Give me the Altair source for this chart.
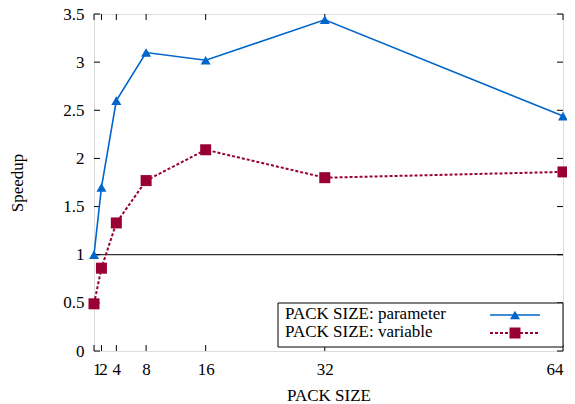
import altair as alt
import pandas as pd

pack_sizes = [1, 2, 4, 8, 16, 32, 64]
speedup_parameter = [1.00, 1.70, 2.60, 3.10, 3.02, 3.44, 2.44]
speedup_variable = [0.49, 0.86, 1.33, 1.77, 2.09, 1.80, 1.86]
series_labels = ["PACK SIZE: parameter", "PACK SIZE: variable"]
x_ticks = [1, 2, 4, 8, 16, 32, 64]
y_ticks = [0, 0.5, 1, 1.5, 2, 2.5, 3, 3.5]

W, H = 469, 337
FONT = "Liberation Serif"
FS = 17
BLUE = "#0066cc"
RED = "#990033"

df_p = pd.DataFrame({"pack": pack_sizes, "speedup": speedup_parameter})
df_v = pd.DataFrame({"pack": pack_sizes, "speedup": speedup_variable})
df_xt = pd.DataFrame({"t": x_ticks})
df_yt = pd.DataFrame({"t": y_ticks})
one = pd.DataFrame({"a": [0]})

xs = alt.Scale(domain=[1, 64], nice=False, zero=False)
ys = alt.Scale(domain=[0, 3.5], nice=False, zero=True)

x_axis = alt.Axis(values=x_ticks, title="PACK SIZE", grid=False, ticks=False, domain=False,
                  labelOverlap=False, format="d", labelFont=FONT, labelFontSize=FS,
                  titleFont=FONT, titleFontSize=FS, titleFontWeight="normal",
                  labelOffset={"expr": "datum.value == 1 ? -1.5 : (datum.value == 2 ? 1.5 : 0)"},
                  labelPadding=10, titlePadding=10, labelColor="black", titleColor="black")
y_axis = alt.Axis(values=y_ticks, title="Speedup", grid=False, ticks=False, domain=False,
                  format="~g", labelFont=FONT, labelFontSize=FS, titleFont=FONT,
                  titleFontSize=FS, titleFontWeight="normal", labelPadding=10,
                  titlePadding=36, labelColor="black", titleColor="black")

X = alt.X("pack:Q", scale=xs, axis=x_axis)
Y = alt.Y("speedup:Q", scale=ys, axis=y_axis)

ref1 = alt.Chart(one).mark_rule(color="black", strokeWidth=1).encode(
    y=alt.datum(1, scale=ys))

xt_bottom = alt.Chart(df_xt).mark_rule(color="black", strokeWidth=1).encode(
    x=alt.X("t:Q", scale=xs), y=alt.value(H), y2=alt.value(H - 6))
xt_top = alt.Chart(df_xt).mark_rule(color="black", strokeWidth=1).encode(
    x=alt.X("t:Q", scale=xs), y=alt.value(0), y2=alt.value(6))
yt_left = alt.Chart(df_yt).mark_rule(color="black", strokeWidth=1).encode(
    y=alt.Y("t:Q", scale=ys), x=alt.value(0), x2=alt.value(6))
yt_right = alt.Chart(df_yt).mark_rule(color="black", strokeWidth=1).encode(
    y=alt.Y("t:Q", scale=ys), x=alt.value(W - 6), x2=alt.value(W))

line_p = alt.Chart(df_p).mark_line(color=BLUE, strokeWidth=1.6).encode(x=X, y=Y)
pts_p = alt.Chart(df_p).mark_point(shape="triangle-up", filled=True, color=BLUE,
                                   size=100, opacity=1).encode(x=X, y=Y)
line_v = alt.Chart(df_v).mark_line(color=RED, strokeWidth=2, strokeDash=[3, 2]).encode(x=X, y=Y)
pts_v = alt.Chart(df_v).mark_point(shape="square", filled=True, color=RED,
                                   size=121, opacity=1).encode(x=X, y=Y)

# legend box
leg_box = alt.Chart(one).mark_rect(fill="white", stroke="black", strokeWidth=1).encode(
    x=alt.value(184), x2=alt.value(W), y=alt.value(289), y2=alt.value(333))
leg_t1 = alt.Chart(one).mark_text(text=series_labels[0], font=FONT, fontSize=FS, align="left",
                                  baseline="alphabetic", color="black").encode(
    x=alt.value(191), y=alt.value(305))
leg_t2 = alt.Chart(one).mark_text(text=series_labels[1], font=FONT, fontSize=FS, align="left",
                                  baseline="alphabetic", color="black").encode(
    x=alt.value(191), y=alt.value(323))
leg_l1 = alt.Chart(one).mark_rule(color=BLUE, strokeWidth=1.6).encode(
    x=alt.value(396), x2=alt.value(446), y=alt.value(301))
leg_m1 = alt.Chart(one).mark_point(shape="triangle-up", filled=True, color=BLUE, size=100,
                                   opacity=1).encode(x=alt.value(421), y=alt.value(301))
leg_l2 = alt.Chart(one).mark_rule(color=RED, strokeWidth=2, strokeDash=[3, 2]).encode(
    x=alt.value(396), x2=alt.value(446), y=alt.value(319))
leg_m2 = alt.Chart(one).mark_point(shape="square", filled=True, color=RED, size=121,
                                   opacity=1).encode(x=alt.value(421), y=alt.value(319))

chart = alt.layer(
    ref1, xt_bottom, xt_top, yt_left, yt_right,
    line_p, pts_p, line_v, pts_v,
    leg_box, leg_t1, leg_t2, leg_l1, leg_m1, leg_l2, leg_m2,
).properties(
    width=W, height=H,
    autosize=alt.AutoSizeParams(type="none"),
    padding={"left": 86, "top": 6, "right": 4, "bottom": 70},
).configure_view(stroke="black", strokeWidth=1.5).configure_axis(
    labelFont=FONT, titleFont=FONT
).configure(background="white")

chart.save("out.html", embed_options={"renderer": "svg", "actions": False})
